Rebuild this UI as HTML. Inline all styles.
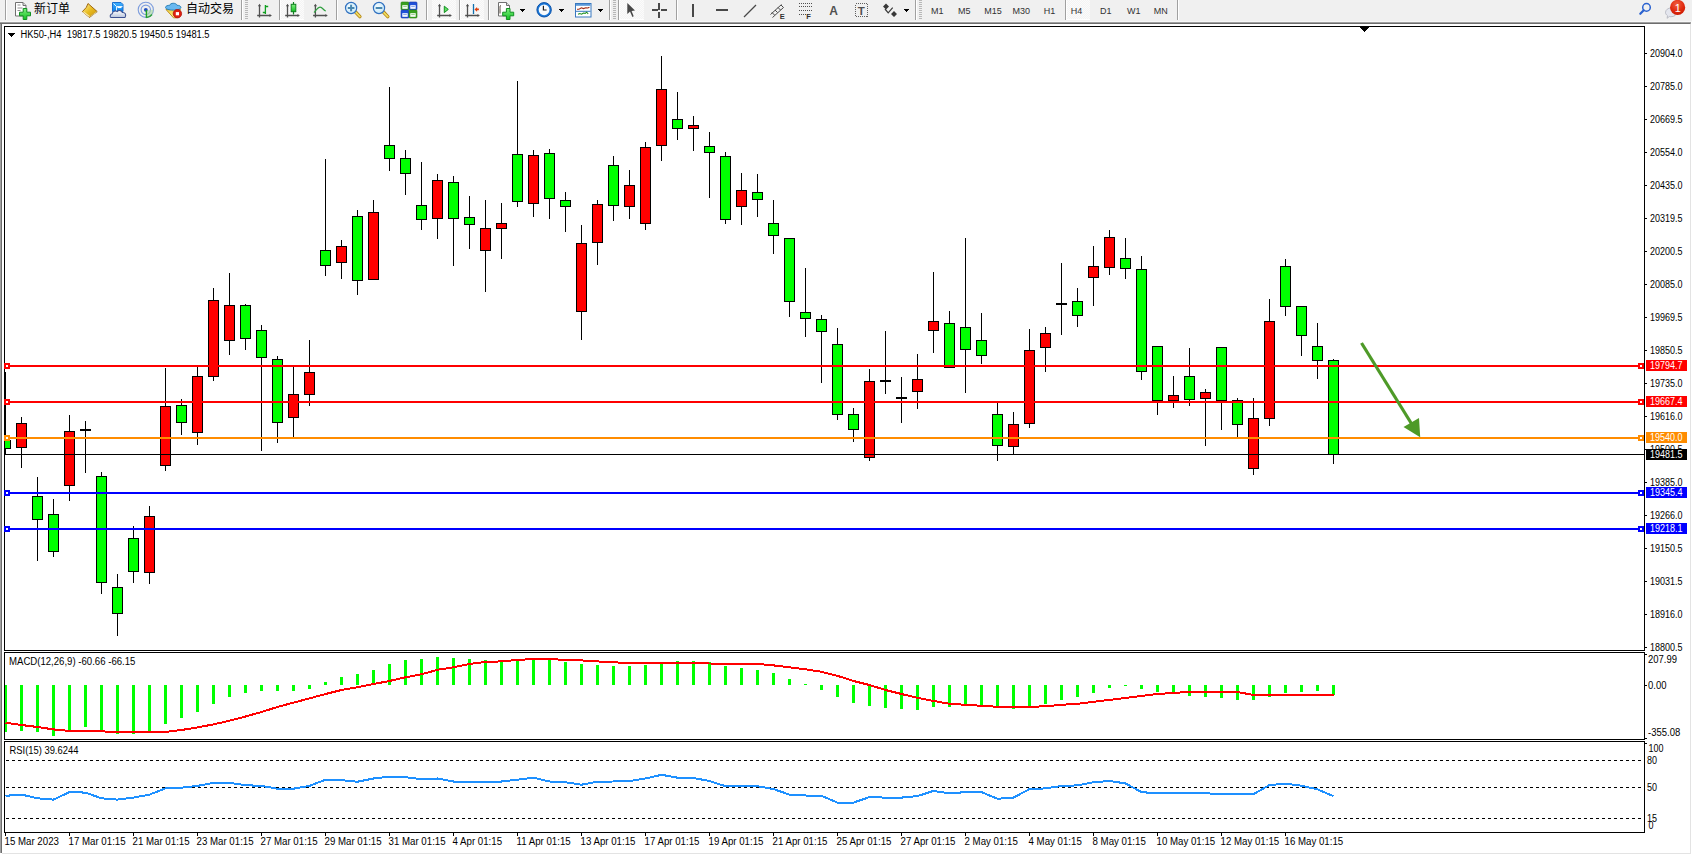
<!DOCTYPE html>
<html><head><meta charset="utf-8"><title>HK50 H4</title>
<style>html,body{margin:0;padding:0;background:#fff;overflow:hidden}svg{display:block}</style></head>
<body><svg width="1692" height="855" viewBox="0 0 1692 855" shape-rendering="crispEdges"><rect x="0" y="24" width="1692" height="830" fill="#ffffff"/><rect x="0" y="0" width="1692" height="21" fill="#f0f0f0"/><rect x="0" y="21" width="1692" height="1" fill="#f7f7f7"/><rect x="0" y="22" width="1691" height="1" fill="#a0a0a0"/><rect x="0" y="23" width="1690" height="1" fill="#6d6d6d"/><rect x="1690" y="23" width="1" height="1" fill="#a0a0a0"/><defs><pattern id="chk" width="2" height="2" patternUnits="userSpaceOnUse"><rect width="2" height="2" fill="#f4f4f4"/><rect width="1" height="1" fill="#fbfbfb"/><rect x="1" y="1" width="1" height="1" fill="#fbfbfb"/></pattern><linearGradient id="gGold" x1="0" y1="0" x2="1" y2="1"><stop offset="0" stop-color="#fff0a0"/><stop offset=".5" stop-color="#e8bc20"/><stop offset="1" stop-color="#c89010"/></linearGradient><linearGradient id="gGreen" x1="0" y1="0" x2="0" y2="1"><stop offset="0" stop-color="#80f080"/><stop offset="1" stop-color="#10c020"/></linearGradient><linearGradient id="gBlue" x1="0" y1="0" x2="0" y2="1"><stop offset="0" stop-color="#40b0ff"/><stop offset="1" stop-color="#0a80e8"/></linearGradient><linearGradient id="gCloud" x1="0" y1="0" x2="0" y2="1"><stop offset="0" stop-color="#ffffff"/><stop offset="1" stop-color="#b8c4dc"/></linearGradient><linearGradient id="gYel" x1="0" y1="0" x2="0" y2="1"><stop offset="0" stop-color="#f0d040"/><stop offset="1" stop-color="#fff090"/></linearGradient><radialGradient id="gBadge" cx=".45" cy=".3" r=".75"><stop offset="0" stop-color="#f06040"/><stop offset=".6" stop-color="#e02a10"/><stop offset="1" stop-color="#c81800"/></radialGradient><radialGradient id="gLens" cx=".4" cy=".4" r=".6"><stop offset="0" stop-color="#f4fcff"/><stop offset="1" stop-color="#c8e8f8"/></radialGradient></defs><rect x="5" y="0" width="1" height="20" fill="#a0a0a0"/><rect x="6" y="0" width="1" height="20" fill="#ffffff"/><g shape-rendering="geometricPrecision"><path d="M15.5 2.5h7.5l3 3v10.5h-10.5z" fill="#fff" stroke="#707070"/><path d="M23 2.5v3h3" fill="#e0e0e0" stroke="#707070"/><path d="M17.5 5h3M17.5 8h5M17.5 10.5h3" stroke="#909090"/><path d="M23.2 8.5h3.6v3.7h3.7v3.6h-3.7v3.7h-3.6v-3.7h-3.7v-3.6h3.7z" fill="url(#gGreen)" stroke="#109020" stroke-linejoin="round"/></g><text x="34" y="13" font-family="'Liberation Sans','Noto Sans CJK SC','WenQuanYi Zen Hei',sans-serif" font-size="12" fill="#000">新订单</text><g shape-rendering="geometricPrecision"><path d="M88 3.5L97.2 11.6 89.5 17.4 82.4 11.6 86.3 7.4z" fill="url(#gGold)" stroke="#a06810" stroke-linejoin="round"/><path d="M83.5 12l6 4.6" stroke="#f8e8a8" stroke-width="1.2"/><path d="M90.5 16.6l6.2-4.8" stroke="#d8c890" stroke-width="1"/></g><g shape-rendering="geometricPrecision"><path d="M112.5 2.5h8.5l2 2v7h-10.5z" fill="url(#gBlue)" stroke="#1a70d0"/><path d="M113.5 3.5l3 3v6M116.5 6.5h6" stroke="#e0f4ff" fill="none"/><path d="M117.5 7.5h4" stroke="#fff" stroke-width="1.2"/><path d="M111 17.5c-1.2-0.3-1.2-3.5 1.2-3.8 0.3-2.4 3.2-3.6 5-2.2 1.6-1.6 4.6-1 5.2 1 2.8-0.4 4 2.4 2.8 4.6-0.4 0.4-0.8 0.4-1.2 0.4z" fill="url(#gCloud)" stroke="#3c5090" stroke-width="1.1"/></g><g shape-rendering="geometricPrecision"><circle cx="145.8" cy="9.8" r="7.6" fill="none" stroke="#6088d8" stroke-width="1.1" opacity=".8"/><circle cx="145.8" cy="9.8" r="4.7" fill="none" stroke="#6088d8" stroke-width="1.1" opacity=".8"/><path d="M146.3 10.2 L146.3 17.6 A7.6 7.6 0 0 0 153.4 9.8z" fill="#a8d8a0" opacity=".6"/><path d="M152 14.5A7.6 7.6 0 0 1 146.3 17.6" fill="none" stroke="#30a040" stroke-width="1.4"/><circle cx="145.8" cy="9.8" r="1.9" fill="#2050c0"/><path d="M146.4 10v7.8" stroke="#20a020" stroke-width="1.4"/></g><g shape-rendering="geometricPrecision"><path d="M166 9.5l7.5 8.3h3l4-8.3z" fill="url(#gYel)" stroke="#c09020" stroke-linejoin="round"/><path d="M165.5 7.5c0-1.6 2.4-2.2 4.2-2.2 0.6-2.6 6.4-2.8 7.4 0 2.2 0 3.8 0.8 3.8 2.2 0 1.6-3.6 2.6-7.7 2.6s-7.7-1-7.7-2.6z" fill="#68b8f0" stroke="#2a80b8"/><circle cx="177.4" cy="13.7" r="4.2" fill="#e02010" stroke="#b01008" stroke-width=".8"/><rect x="175.8" y="12.1" width="3.2" height="3.2" fill="#fff"/></g><text x="186" y="13" font-family="'Liberation Sans','Noto Sans CJK SC','WenQuanYi Zen Hei',sans-serif" font-size="12" fill="#000">自动交易</text><rect x="241" y="0" width="1" height="20" fill="#a0a0a0"/><rect x="242" y="0" width="1" height="20" fill="#ffffff"/><rect x="245" y="0" width="3" height="1" fill="#b8b8b8"/><rect x="245" y="2" width="3" height="1" fill="#b8b8b8"/><rect x="245" y="4" width="3" height="1" fill="#b8b8b8"/><rect x="245" y="6" width="3" height="1" fill="#b8b8b8"/><rect x="245" y="8" width="3" height="1" fill="#b8b8b8"/><rect x="245" y="10" width="3" height="1" fill="#b8b8b8"/><rect x="245" y="12" width="3" height="1" fill="#b8b8b8"/><rect x="245" y="14" width="3" height="1" fill="#b8b8b8"/><rect x="245" y="16" width="3" height="1" fill="#b8b8b8"/><rect x="245" y="18" width="3" height="1" fill="#b8b8b8"/><g shape-rendering="geometricPrecision"><path d="M259.5 5v12.5M257.2 15.5h13" stroke="#505050" stroke-width="1.3"/><path d="M257.9 6.2l1.6-2.4 1.6 2.4zM269.5 13.9l2.4 1.6-2.4 1.6z" fill="#505050"/></g><g shape-rendering="geometricPrecision"><path d="M265.4 5v9M265.4 6.5h2.8M262.8 12.5h2.6" stroke="#10a020" stroke-width="1.3" fill="none"/></g><rect x="279" y="0" width="1" height="20" fill="#a0a0a0"/><rect x="280" y="0" width="1" height="20" fill="#ffffff"/><rect x="281" y="0" width="23" height="20" fill="url(#chk)"/><rect x="281" y="19" width="23" height="1" fill="#ffffff"/><g shape-rendering="geometricPrecision"><path d="M287.5 5v12.5M285.2 15.5h13" stroke="#505050" stroke-width="1.3"/><path d="M285.9 6.2l1.6-2.4 1.6 2.4zM297.5 13.9l2.4 1.6-2.4 1.6z" fill="#505050"/></g><g shape-rendering="geometricPrecision"><path d="M293.5 2v12.5" stroke="#108020" stroke-width="1.2"/><rect x="291.2" y="4.3" width="4.6" height="7.4" fill="url(#gGreen)" stroke="#108020"/></g><g shape-rendering="geometricPrecision"><path d="M315.4 5v12.5M313.09999999999997 15.5h13" stroke="#505050" stroke-width="1.3"/><path d="M313.79999999999995 6.2l1.6-2.4 1.6 2.4zM325.4 13.9l2.4 1.6-2.4 1.6z" fill="#505050"/></g><g shape-rendering="geometricPrecision"><path d="M314 12.5C316.5 9.5 318 7.2 320.2 7.2S323.5 10.5 325.8 11" fill="none" stroke="#30a040" stroke-width="1.2"/></g><rect x="336" y="0" width="1" height="20" fill="#a0a0a0"/><rect x="337" y="0" width="1" height="20" fill="#ffffff"/><g shape-rendering="geometricPrecision"><path d="M355.3 11.8l4.6 4.8" stroke="#b08010" stroke-width="3.4" stroke-linecap="round"/><path d="M355.3 11.8l4.6 4.8" stroke="#f0dc60" stroke-width="1.8" stroke-linecap="round"/><circle cx="351.1" cy="8" r="5.6" fill="url(#gLens)" stroke="#3070c0" stroke-width="1.2"/><path d="M347.8 8h6.6" stroke="#4a88b0" stroke-width="2"/><path d="M351.1 4.7v6.6" stroke="#4a88b0" stroke-width="2"/></g><g shape-rendering="geometricPrecision"><path d="M383.2 11.8l4.6 4.8" stroke="#b08010" stroke-width="3.4" stroke-linecap="round"/><path d="M383.2 11.8l4.6 4.8" stroke="#f0dc60" stroke-width="1.8" stroke-linecap="round"/><circle cx="379" cy="8" r="5.6" fill="url(#gLens)" stroke="#3070c0" stroke-width="1.2"/><path d="M375.7 8h6.6" stroke="#4a88b0" stroke-width="2"/></g><g shape-rendering="geometricPrecision"><rect x="401" y="2" width="8" height="8" rx="1" fill="#3aa020" stroke="#2a8010" stroke-width=".6"/><path d="M402.3 5.2h5.4v3.6h-5.4z" fill="#fff"/><path d="M403.2 6.6h3.6" stroke="#3aa020" stroke-width=".9" opacity=".6"/></g><g shape-rendering="geometricPrecision"><rect x="409" y="2" width="8" height="8" rx="1" fill="#2050d8" stroke="#1838a8" stroke-width=".6"/><path d="M410.3 5.2h5.4v3.6h-5.4z" fill="#fff"/><path d="M411.2 6.6h3.6" stroke="#2050d8" stroke-width=".9" opacity=".6"/></g><g shape-rendering="geometricPrecision"><rect x="401" y="10" width="8" height="8" rx="1" fill="#2050d8" stroke="#1838a8" stroke-width=".6"/><path d="M402.3 13.2h5.4v3.6h-5.4z" fill="#fff"/><path d="M403.2 14.6h3.6" stroke="#2050d8" stroke-width=".9" opacity=".6"/></g><g shape-rendering="geometricPrecision"><rect x="409" y="10" width="8" height="8" rx="1" fill="#3aa020" stroke="#2a8010" stroke-width=".6"/><path d="M410.3 13.2h5.4v3.6h-5.4z" fill="#fff"/><path d="M411.2 14.6h3.6" stroke="#3aa020" stroke-width=".9" opacity=".6"/></g><rect x="426" y="0" width="1" height="20" fill="#a0a0a0"/><rect x="427" y="0" width="1" height="20" fill="#ffffff"/><rect x="432" y="0" width="24" height="20" fill="url(#chk)"/><rect x="432" y="19" width="24" height="1" fill="#ffffff"/><g shape-rendering="geometricPrecision"><path d="M439.5 5v12.5M437.2 15.5h13" stroke="#505050" stroke-width="1.3"/><path d="M437.9 6.2l1.6-2.4 1.6 2.4zM449.5 13.9l2.4 1.6-2.4 1.6z" fill="#505050"/></g><g shape-rendering="geometricPrecision"><path d="M444.3 6.2l4 3.2-4 3.2z" fill="#60e060" stroke="#109020"/></g><rect x="459" y="0" width="1" height="20" fill="#a0a0a0"/><rect x="460" y="0" width="1" height="20" fill="#ffffff"/><rect x="461" y="0" width="23" height="20" fill="url(#chk)"/><rect x="461" y="19" width="23" height="1" fill="#ffffff"/><g shape-rendering="geometricPrecision"><path d="M467.5 5v12.5M465.2 15.5h13" stroke="#505050" stroke-width="1.3"/><path d="M465.9 6.2l1.6-2.4 1.6 2.4zM477.5 13.9l2.4 1.6-2.4 1.6z" fill="#505050"/></g><g shape-rendering="geometricPrecision"><path d="M473.5 4v10" stroke="#1070b0" stroke-width="1.3"/><path d="M474.5 9.4l2.6-2.4v1.6h1.8v1.6h-1.8v1.6z" fill="#e04010"/></g><rect x="488" y="0" width="1" height="20" fill="#a0a0a0"/><rect x="489" y="0" width="1" height="20" fill="#ffffff"/><g shape-rendering="geometricPrecision"><path d="M498.5 2.5h8l3 3v10.5h-11z" fill="#fff" stroke="#707070"/><path d="M506.5 2.5v3h3" fill="#e0e0e0" stroke="#707070"/><path d="M501 5.5c-1 0-1 1-1 3v5" stroke="#403020" fill="none" stroke-width=".9"/><path d="M506.4 8.5h3.6v3.7h3.7v3.6h-3.7v3.7h-3.6v-3.7h-3.7v-3.6h3.7z" fill="url(#gGreen)" stroke="#109020" stroke-linejoin="round"/></g><path d="M519.5 9h6l-3 3z" fill="#000"/><g shape-rendering="geometricPrecision"><circle cx="544.1" cy="9.8" r="7.2" fill="#1a78d8" stroke="#0a50a8" stroke-width="1"/><circle cx="544.1" cy="9.8" r="5.4" fill="#f8fafc"/><path d="M543.4 5.8v4.2h3.2" stroke="#202020" stroke-width="1.2" fill="none"/></g><path d="M558.5 9h6l-3 3z" fill="#000"/><g shape-rendering="geometricPrecision"><rect x="575.5" y="3.5" width="15.5" height="13.5" fill="#fff" stroke="#3878c0"/><rect x="576" y="4" width="14.5" height="1.8" fill="#5a98d8"/><path d="M576 11.3h14.5" stroke="#3878c0"/><path d="M577.2 9.4l2.2-.4 2-1.2 2 .8 2.4-.8 2 .2 1.6-.8" stroke="#a02810" fill="none" stroke-width="1.1"/><path d="M578 14.2l1.8-.6 1.8.6 1.8-1.2 1.8.4 1.4-1.2 1.6 1.6" stroke="#209020" fill="none" stroke-width="1.1"/></g><path d="M597.5 9h6l-3 3z" fill="#000"/><rect x="609" y="0" width="1" height="20" fill="#a0a0a0"/><rect x="610" y="0" width="1" height="20" fill="#ffffff"/><rect x="613" y="0" width="3" height="1" fill="#b8b8b8"/><rect x="613" y="2" width="3" height="1" fill="#b8b8b8"/><rect x="613" y="4" width="3" height="1" fill="#b8b8b8"/><rect x="613" y="6" width="3" height="1" fill="#b8b8b8"/><rect x="613" y="8" width="3" height="1" fill="#b8b8b8"/><rect x="613" y="10" width="3" height="1" fill="#b8b8b8"/><rect x="613" y="12" width="3" height="1" fill="#b8b8b8"/><rect x="613" y="14" width="3" height="1" fill="#b8b8b8"/><rect x="613" y="16" width="3" height="1" fill="#b8b8b8"/><rect x="613" y="18" width="3" height="1" fill="#b8b8b8"/><rect x="618" y="0" width="1" height="20" fill="#a0a0a0"/><rect x="619" y="0" width="1" height="20" fill="#ffffff"/><rect x="620" y="0" width="24" height="20" fill="url(#chk)"/><rect x="620" y="19" width="24" height="1" fill="#ffffff"/><g shape-rendering="geometricPrecision"><path d="M627.3 2.9V14.1L630 11.4 632.4 17 633.7 16.2 631.6 10.9 635 10.6Z" fill="#484848"/></g><path d="M659 3v6.5M659 11.5v6.5M652 10h6.2M660.8 10h6.2" stroke="#484848" stroke-width="1.3"/><rect x="676" y="0" width="1" height="20" fill="#a0a0a0"/><rect x="677" y="0" width="1" height="20" fill="#ffffff"/><path d="M693 4v13" stroke="#484848" stroke-width="1.3"/><path d="M716 10h12" stroke="#484848" stroke-width="1.3"/><g shape-rendering="geometricPrecision"><path d="M744 17L756 5" stroke="#484848" stroke-width="1.2"/></g><g shape-rendering="geometricPrecision"><path d="M770.5 14.5l11-10M772.5 17.5l11-10M772 12.5l2.5 2.5M775 10l2.5 2.5M778 7.5l2.5 2.5M781 5l2.5 2.5" stroke="#484848" fill="none" stroke-width="1"/></g><text x="779.8" y="19" font-family="'Liberation Sans','DejaVu Sans',sans-serif" font-size="7.5" font-weight="bold" fill="#303030">E</text><path d="M799 3.5h13M799 6.5h13M799 10.5h13M799 14.5h8" stroke="#505050" stroke-dasharray="1 1"/><text x="806.3" y="19" font-family="'Liberation Sans','DejaVu Sans',sans-serif" font-size="7.5" font-weight="bold" fill="#303030">F</text><text x="829.3" y="15" font-family="'Liberation Sans','DejaVu Sans',sans-serif" font-size="12" font-weight="bold" fill="#505050">A</text><rect x="855.5" y="3.5" width="12" height="13" fill="none" stroke="#606060" stroke-dasharray="1 1"/><text x="857.8" y="14.6" font-family="'Liberation Sans','DejaVu Sans',sans-serif" font-size="11.5" font-weight="bold" fill="#505050">T</text><g shape-rendering="geometricPrecision"><path d="M883 6.5l3-3 3 3-3 3zM891 14l3-3 3 3-3 3z" fill="#383838"/><path d="M885 9l3.2 3.8 4.5-5.2" stroke="#383838" fill="none" stroke-width="1.2"/></g><path d="M903.5 9h6l-3 3z" fill="#000"/><rect x="915" y="0" width="1" height="20" fill="#a0a0a0"/><rect x="916" y="0" width="1" height="20" fill="#ffffff"/><rect x="919" y="0" width="3" height="1" fill="#b8b8b8"/><rect x="919" y="2" width="3" height="1" fill="#b8b8b8"/><rect x="919" y="4" width="3" height="1" fill="#b8b8b8"/><rect x="919" y="6" width="3" height="1" fill="#b8b8b8"/><rect x="919" y="8" width="3" height="1" fill="#b8b8b8"/><rect x="919" y="10" width="3" height="1" fill="#b8b8b8"/><rect x="919" y="12" width="3" height="1" fill="#b8b8b8"/><rect x="919" y="14" width="3" height="1" fill="#b8b8b8"/><rect x="919" y="16" width="3" height="1" fill="#b8b8b8"/><rect x="919" y="18" width="3" height="1" fill="#b8b8b8"/><rect x="1066" y="0" width="24" height="20" fill="url(#chk)"/><rect x="1066" y="19" width="24" height="1" fill="#ffffff"/><rect x="1065" y="0" width="1" height="20" fill="#a0a0a0"/><rect x="1066" y="0" width="1" height="20" fill="#ffffff"/><text transform="scale(1.0,1)" x="931.00" y="14" font-family="'Liberation Sans','DejaVu Sans',sans-serif" font-size="9" fill="#333" xml:space="preserve">M1</text><text transform="scale(1.0,1)" x="958.00" y="14" font-family="'Liberation Sans','DejaVu Sans',sans-serif" font-size="9" fill="#333" xml:space="preserve">M5</text><text transform="scale(1.0,1)" x="984.30" y="14" font-family="'Liberation Sans','DejaVu Sans',sans-serif" font-size="9" fill="#333" xml:space="preserve">M15</text><text transform="scale(1.0,1)" x="1012.40" y="14" font-family="'Liberation Sans','DejaVu Sans',sans-serif" font-size="9" fill="#333" xml:space="preserve">M30</text><text transform="scale(1.0,1)" x="1043.70" y="14" font-family="'Liberation Sans','DejaVu Sans',sans-serif" font-size="9" fill="#333" xml:space="preserve">H1</text><text transform="scale(1.0,1)" x="1070.70" y="14" font-family="'Liberation Sans','DejaVu Sans',sans-serif" font-size="9" fill="#333" xml:space="preserve">H4</text><text transform="scale(1.0,1)" x="1099.90" y="14" font-family="'Liberation Sans','DejaVu Sans',sans-serif" font-size="9" fill="#333" xml:space="preserve">D1</text><text transform="scale(1.0,1)" x="1127.00" y="14" font-family="'Liberation Sans','DejaVu Sans',sans-serif" font-size="9" fill="#333" xml:space="preserve">W1</text><text transform="scale(1.0,1)" x="1153.70" y="14" font-family="'Liberation Sans','DejaVu Sans',sans-serif" font-size="9" fill="#333" xml:space="preserve">MN</text><rect x="1177" y="0" width="1" height="20" fill="#a0a0a0"/><rect x="1178" y="0" width="1" height="20" fill="#ffffff"/><g shape-rendering="geometricPrecision"><circle cx="1646.5" cy="7.4" r="3.8" fill="none" stroke="#2a62d0" stroke-width="1.5"/><path d="M1643.7 10.2l-3.4 3.6" stroke="#2a62d0" stroke-width="2.2" stroke-linecap="round"/></g><g shape-rendering="geometricPrecision"><path d="M1665.5 12.5c0-2.6 2.6-4.6 5.6-4.6s5.6 2 5.6 4.6-2.6 4.2-5.6 4.2c-.6 0-1.2 0-1.8-.2l-2.2 1.8.4-2.6c-1.2-.8-2-2-2-3.2z" fill="#e4e6ee" stroke="#b0b2bc" stroke-width=".8"/><circle cx="1677.6" cy="7.4" r="7.6" fill="url(#gBadge)"/><text x="1677.8" y="11.6" font-family="'Liberation Sans','DejaVu Sans',sans-serif" font-size="11" fill="#fff" text-anchor="middle">1</text></g><rect x="0" y="24" width="1" height="829" fill="#a0a0a0"/><rect x="1" y="24" width="1" height="829" fill="#6d6d6d"/><rect x="1690" y="24" width="1" height="830" fill="#e3e3e3"/><rect x="2" y="853" width="1689" height="1" fill="#e3e3e3"/><defs><clipPath id="cm"><rect x="5" y="27" width="1639" height="623"/></clipPath><clipPath id="cd"><rect x="5" y="653" width="1639" height="86"/></clipPath><clipPath id="cr"><rect x="5" y="742" width="1639" height="90"/></clipPath></defs><g clip-path="url(#cm)"><rect x="5" y="372" width="1" height="83" fill="#000"/><rect x="0" y="440" width="11" height="9" fill="#000"/><rect x="1" y="441" width="9" height="7" fill="#00ff00"/><rect x="21" y="417" width="1" height="51" fill="#000"/><rect x="16" y="423" width="11" height="25" fill="#000"/><rect x="17" y="424" width="9" height="23" fill="#ff0000"/><rect x="37" y="477" width="1" height="84" fill="#000"/><rect x="32" y="496" width="11" height="24" fill="#000"/><rect x="33" y="497" width="9" height="22" fill="#00ff00"/><rect x="53" y="499" width="1" height="58" fill="#000"/><rect x="48" y="514" width="11" height="38" fill="#000"/><rect x="49" y="515" width="9" height="36" fill="#00ff00"/><rect x="69" y="415" width="1" height="86" fill="#000"/><rect x="64" y="431" width="11" height="55" fill="#000"/><rect x="65" y="432" width="9" height="53" fill="#ff0000"/><rect x="85" y="421" width="1" height="52" fill="#000"/><rect x="80" y="429" width="11" height="2" fill="#000"/><rect x="101" y="472" width="1" height="122" fill="#000"/><rect x="96" y="476" width="11" height="107" fill="#000"/><rect x="97" y="477" width="9" height="105" fill="#00ff00"/><rect x="117" y="574" width="1" height="62" fill="#000"/><rect x="112" y="587" width="11" height="27" fill="#000"/><rect x="113" y="588" width="9" height="25" fill="#00ff00"/><rect x="133" y="526" width="1" height="57" fill="#000"/><rect x="128" y="538" width="11" height="34" fill="#000"/><rect x="129" y="539" width="9" height="32" fill="#00ff00"/><rect x="149" y="506" width="1" height="78" fill="#000"/><rect x="144" y="516" width="11" height="57" fill="#000"/><rect x="145" y="517" width="9" height="55" fill="#ff0000"/><rect x="165" y="368" width="1" height="103" fill="#000"/><rect x="160" y="406" width="11" height="60" fill="#000"/><rect x="161" y="407" width="9" height="58" fill="#ff0000"/><rect x="181" y="399" width="1" height="36" fill="#000"/><rect x="176" y="405" width="11" height="18" fill="#000"/><rect x="177" y="406" width="9" height="16" fill="#00ff00"/><rect x="197" y="367" width="1" height="78" fill="#000"/><rect x="192" y="376" width="11" height="57" fill="#000"/><rect x="193" y="377" width="9" height="55" fill="#ff0000"/><rect x="213" y="288" width="1" height="93" fill="#000"/><rect x="208" y="300" width="11" height="77" fill="#000"/><rect x="209" y="301" width="9" height="75" fill="#ff0000"/><rect x="229" y="273" width="1" height="82" fill="#000"/><rect x="224" y="305" width="11" height="36" fill="#000"/><rect x="225" y="306" width="9" height="34" fill="#ff0000"/><rect x="245" y="304" width="1" height="46" fill="#000"/><rect x="240" y="305" width="11" height="34" fill="#000"/><rect x="241" y="306" width="9" height="32" fill="#00ff00"/><rect x="261" y="325" width="1" height="126" fill="#000"/><rect x="256" y="330" width="11" height="28" fill="#000"/><rect x="257" y="331" width="9" height="26" fill="#00ff00"/><rect x="277" y="356" width="1" height="87" fill="#000"/><rect x="272" y="359" width="11" height="64" fill="#000"/><rect x="273" y="360" width="9" height="62" fill="#00ff00"/><rect x="293" y="367" width="1" height="70" fill="#000"/><rect x="288" y="394" width="11" height="24" fill="#000"/><rect x="289" y="395" width="9" height="22" fill="#ff0000"/><rect x="309" y="340" width="1" height="66" fill="#000"/><rect x="304" y="372" width="11" height="23" fill="#000"/><rect x="305" y="373" width="9" height="21" fill="#ff0000"/><rect x="325" y="159" width="1" height="117" fill="#000"/><rect x="320" y="250" width="11" height="16" fill="#000"/><rect x="321" y="251" width="9" height="14" fill="#00ff00"/><rect x="341" y="240" width="1" height="39" fill="#000"/><rect x="336" y="246" width="11" height="17" fill="#000"/><rect x="337" y="247" width="9" height="15" fill="#ff0000"/><rect x="357" y="210" width="1" height="85" fill="#000"/><rect x="352" y="216" width="11" height="65" fill="#000"/><rect x="353" y="217" width="9" height="63" fill="#00ff00"/><rect x="373" y="200" width="1" height="80" fill="#000"/><rect x="368" y="212" width="11" height="68" fill="#000"/><rect x="369" y="213" width="9" height="66" fill="#ff0000"/><rect x="389" y="87" width="1" height="84" fill="#000"/><rect x="384" y="145" width="11" height="14" fill="#000"/><rect x="385" y="146" width="9" height="12" fill="#00ff00"/><rect x="405" y="150" width="1" height="45" fill="#000"/><rect x="400" y="158" width="11" height="16" fill="#000"/><rect x="401" y="159" width="9" height="14" fill="#00ff00"/><rect x="421" y="162" width="1" height="68" fill="#000"/><rect x="416" y="205" width="11" height="15" fill="#000"/><rect x="417" y="206" width="9" height="13" fill="#00ff00"/><rect x="437" y="174" width="1" height="65" fill="#000"/><rect x="432" y="180" width="11" height="39" fill="#000"/><rect x="433" y="181" width="9" height="37" fill="#ff0000"/><rect x="453" y="176" width="1" height="90" fill="#000"/><rect x="448" y="182" width="11" height="37" fill="#000"/><rect x="449" y="183" width="9" height="35" fill="#00ff00"/><rect x="469" y="196" width="1" height="53" fill="#000"/><rect x="464" y="217" width="11" height="8" fill="#000"/><rect x="465" y="218" width="9" height="6" fill="#00ff00"/><rect x="485" y="200" width="1" height="92" fill="#000"/><rect x="480" y="228" width="11" height="23" fill="#000"/><rect x="481" y="229" width="9" height="21" fill="#ff0000"/><rect x="501" y="203" width="1" height="56" fill="#000"/><rect x="496" y="223" width="11" height="6" fill="#000"/><rect x="497" y="224" width="9" height="4" fill="#ff0000"/><rect x="517" y="81" width="1" height="126" fill="#000"/><rect x="512" y="154" width="11" height="48" fill="#000"/><rect x="513" y="155" width="9" height="46" fill="#00ff00"/><rect x="533" y="150" width="1" height="67" fill="#000"/><rect x="528" y="155" width="11" height="49" fill="#000"/><rect x="529" y="156" width="9" height="47" fill="#ff0000"/><rect x="549" y="149" width="1" height="70" fill="#000"/><rect x="544" y="153" width="11" height="46" fill="#000"/><rect x="545" y="154" width="9" height="44" fill="#00ff00"/><rect x="565" y="192" width="1" height="40" fill="#000"/><rect x="560" y="200" width="11" height="7" fill="#000"/><rect x="561" y="201" width="9" height="5" fill="#00ff00"/><rect x="581" y="225" width="1" height="115" fill="#000"/><rect x="576" y="243" width="11" height="69" fill="#000"/><rect x="577" y="244" width="9" height="67" fill="#ff0000"/><rect x="597" y="200" width="1" height="65" fill="#000"/><rect x="592" y="204" width="11" height="39" fill="#000"/><rect x="593" y="205" width="9" height="37" fill="#ff0000"/><rect x="613" y="156" width="1" height="65" fill="#000"/><rect x="608" y="165" width="11" height="41" fill="#000"/><rect x="609" y="166" width="9" height="39" fill="#00ff00"/><rect x="629" y="170" width="1" height="49" fill="#000"/><rect x="624" y="185" width="11" height="22" fill="#000"/><rect x="625" y="186" width="9" height="20" fill="#ff0000"/><rect x="645" y="142" width="1" height="88" fill="#000"/><rect x="640" y="147" width="11" height="77" fill="#000"/><rect x="641" y="148" width="9" height="75" fill="#ff0000"/><rect x="661" y="56" width="1" height="105" fill="#000"/><rect x="656" y="89" width="11" height="57" fill="#000"/><rect x="657" y="90" width="9" height="55" fill="#ff0000"/><rect x="677" y="92" width="1" height="48" fill="#000"/><rect x="672" y="119" width="11" height="10" fill="#000"/><rect x="673" y="120" width="9" height="8" fill="#00ff00"/><rect x="693" y="116" width="1" height="35" fill="#000"/><rect x="688" y="125" width="11" height="4" fill="#000"/><rect x="689" y="126" width="9" height="2" fill="#ff0000"/><rect x="709" y="132" width="1" height="66" fill="#000"/><rect x="704" y="146" width="11" height="7" fill="#000"/><rect x="705" y="147" width="9" height="5" fill="#00ff00"/><rect x="725" y="152" width="1" height="72" fill="#000"/><rect x="720" y="156" width="11" height="64" fill="#000"/><rect x="721" y="157" width="9" height="62" fill="#00ff00"/><rect x="741" y="173" width="1" height="52" fill="#000"/><rect x="736" y="190" width="11" height="17" fill="#000"/><rect x="737" y="191" width="9" height="15" fill="#ff0000"/><rect x="757" y="174" width="1" height="43" fill="#000"/><rect x="752" y="192" width="11" height="8" fill="#000"/><rect x="753" y="193" width="9" height="6" fill="#00ff00"/><rect x="773" y="200" width="1" height="54" fill="#000"/><rect x="768" y="223" width="11" height="13" fill="#000"/><rect x="769" y="224" width="9" height="11" fill="#00ff00"/><rect x="789" y="238" width="1" height="79" fill="#000"/><rect x="784" y="238" width="11" height="64" fill="#000"/><rect x="785" y="239" width="9" height="62" fill="#00ff00"/><rect x="805" y="268" width="1" height="69" fill="#000"/><rect x="800" y="312" width="11" height="7" fill="#000"/><rect x="801" y="313" width="9" height="5" fill="#00ff00"/><rect x="821" y="315" width="1" height="68" fill="#000"/><rect x="816" y="319" width="11" height="13" fill="#000"/><rect x="817" y="320" width="9" height="11" fill="#00ff00"/><rect x="837" y="328" width="1" height="92" fill="#000"/><rect x="832" y="344" width="11" height="71" fill="#000"/><rect x="833" y="345" width="9" height="69" fill="#00ff00"/><rect x="853" y="408" width="1" height="34" fill="#000"/><rect x="848" y="414" width="11" height="16" fill="#000"/><rect x="849" y="415" width="9" height="14" fill="#00ff00"/><rect x="869" y="369" width="1" height="92" fill="#000"/><rect x="864" y="381" width="11" height="77" fill="#000"/><rect x="865" y="382" width="9" height="75" fill="#ff0000"/><rect x="885" y="331" width="1" height="63" fill="#000"/><rect x="880" y="380" width="11" height="2" fill="#000"/><rect x="901" y="377" width="1" height="46" fill="#000"/><rect x="896" y="397" width="11" height="2" fill="#000"/><rect x="917" y="354" width="1" height="55" fill="#000"/><rect x="912" y="379" width="11" height="13" fill="#000"/><rect x="913" y="380" width="9" height="11" fill="#ff0000"/><rect x="933" y="272" width="1" height="81" fill="#000"/><rect x="928" y="321" width="11" height="10" fill="#000"/><rect x="929" y="322" width="9" height="8" fill="#ff0000"/><rect x="949" y="311" width="1" height="57" fill="#000"/><rect x="944" y="323" width="11" height="45" fill="#000"/><rect x="945" y="324" width="9" height="43" fill="#00ff00"/><rect x="965" y="238" width="1" height="155" fill="#000"/><rect x="960" y="327" width="11" height="23" fill="#000"/><rect x="961" y="328" width="9" height="21" fill="#00ff00"/><rect x="981" y="313" width="1" height="51" fill="#000"/><rect x="976" y="340" width="11" height="16" fill="#000"/><rect x="977" y="341" width="9" height="14" fill="#00ff00"/><rect x="997" y="403" width="1" height="58" fill="#000"/><rect x="992" y="414" width="11" height="32" fill="#000"/><rect x="993" y="415" width="9" height="30" fill="#00ff00"/><rect x="1013" y="412" width="1" height="43" fill="#000"/><rect x="1008" y="424" width="11" height="23" fill="#000"/><rect x="1009" y="425" width="9" height="21" fill="#ff0000"/><rect x="1029" y="329" width="1" height="99" fill="#000"/><rect x="1024" y="350" width="11" height="74" fill="#000"/><rect x="1025" y="351" width="9" height="72" fill="#ff0000"/><rect x="1045" y="327" width="1" height="45" fill="#000"/><rect x="1040" y="333" width="11" height="15" fill="#000"/><rect x="1041" y="334" width="9" height="13" fill="#ff0000"/><rect x="1061" y="263" width="1" height="72" fill="#000"/><rect x="1056" y="303" width="11" height="2" fill="#000"/><rect x="1077" y="288" width="1" height="39" fill="#000"/><rect x="1072" y="301" width="11" height="15" fill="#000"/><rect x="1073" y="302" width="9" height="13" fill="#00ff00"/><rect x="1093" y="246" width="1" height="60" fill="#000"/><rect x="1088" y="266" width="11" height="12" fill="#000"/><rect x="1089" y="267" width="9" height="10" fill="#ff0000"/><rect x="1109" y="230" width="1" height="45" fill="#000"/><rect x="1104" y="237" width="11" height="31" fill="#000"/><rect x="1105" y="238" width="9" height="29" fill="#ff0000"/><rect x="1125" y="238" width="1" height="41" fill="#000"/><rect x="1120" y="258" width="11" height="11" fill="#000"/><rect x="1121" y="259" width="9" height="9" fill="#00ff00"/><rect x="1141" y="256" width="1" height="124" fill="#000"/><rect x="1136" y="269" width="11" height="103" fill="#000"/><rect x="1137" y="270" width="9" height="101" fill="#00ff00"/><rect x="1157" y="346" width="1" height="69" fill="#000"/><rect x="1152" y="346" width="11" height="55" fill="#000"/><rect x="1153" y="347" width="9" height="53" fill="#00ff00"/><rect x="1173" y="376" width="1" height="32" fill="#000"/><rect x="1168" y="395" width="11" height="6" fill="#000"/><rect x="1169" y="396" width="9" height="4" fill="#ff0000"/><rect x="1189" y="348" width="1" height="58" fill="#000"/><rect x="1184" y="376" width="11" height="24" fill="#000"/><rect x="1185" y="377" width="9" height="22" fill="#00ff00"/><rect x="1205" y="389" width="1" height="57" fill="#000"/><rect x="1200" y="392" width="11" height="7" fill="#000"/><rect x="1201" y="393" width="9" height="5" fill="#ff0000"/><rect x="1221" y="347" width="1" height="83" fill="#000"/><rect x="1216" y="347" width="11" height="54" fill="#000"/><rect x="1217" y="348" width="9" height="52" fill="#00ff00"/><rect x="1237" y="398" width="1" height="39" fill="#000"/><rect x="1232" y="400" width="11" height="25" fill="#000"/><rect x="1233" y="401" width="9" height="23" fill="#00ff00"/><rect x="1253" y="398" width="1" height="77" fill="#000"/><rect x="1248" y="418" width="11" height="51" fill="#000"/><rect x="1249" y="419" width="9" height="49" fill="#ff0000"/><rect x="1269" y="299" width="1" height="127" fill="#000"/><rect x="1264" y="321" width="11" height="98" fill="#000"/><rect x="1265" y="322" width="9" height="96" fill="#ff0000"/><rect x="1285" y="259" width="1" height="57" fill="#000"/><rect x="1280" y="266" width="11" height="41" fill="#000"/><rect x="1281" y="267" width="9" height="39" fill="#00ff00"/><rect x="1301" y="306" width="1" height="50" fill="#000"/><rect x="1296" y="306" width="11" height="30" fill="#000"/><rect x="1297" y="307" width="9" height="28" fill="#00ff00"/><rect x="1317" y="323" width="1" height="56" fill="#000"/><rect x="1312" y="346" width="11" height="15" fill="#000"/><rect x="1313" y="347" width="9" height="13" fill="#00ff00"/><rect x="1333" y="359" width="1" height="105" fill="#000"/><rect x="1328" y="360" width="11" height="95" fill="#000"/><rect x="1329" y="361" width="9" height="93" fill="#00ff00"/><rect x="5" y="454" width="1639" height="1" fill="#000"/><rect x="5" y="365" width="1639" height="2" fill="#ff0000"/><rect x="1638" y="363" width="6" height="6" fill="#ff0000"/><rect x="1640" y="365" width="2" height="2" fill="#fff"/><rect x="5" y="401" width="1639" height="2" fill="#ff0000"/><rect x="1638" y="399" width="6" height="6" fill="#ff0000"/><rect x="1640" y="401" width="2" height="2" fill="#fff"/><rect x="5" y="437" width="1639" height="2" fill="#ff8c00"/><rect x="1638" y="435" width="6" height="6" fill="#ff8c00"/><rect x="1640" y="437" width="2" height="2" fill="#fff"/><rect x="5" y="492" width="1639" height="2" fill="#0000ff"/><rect x="1638" y="490" width="6" height="6" fill="#0000ff"/><rect x="1640" y="492" width="2" height="2" fill="#fff"/><rect x="5" y="528" width="1639" height="2" fill="#0000ff"/><rect x="1638" y="526" width="6" height="6" fill="#0000ff"/><rect x="1640" y="528" width="2" height="2" fill="#fff"/><g shape-rendering="geometricPrecision"><line x1="1361.5" y1="343" x2="1412" y2="424.5" stroke="#4e9a28" stroke-width="3.2"/><path d="M1420.2 437.2 L1403.5 427 L1419 418 Z" fill="#4e9a28"/></g><path d="M1359.5 27h10l-5 5.5z" fill="#000"/></g><rect x="4" y="26" width="1641" height="1" fill="#000"/><rect x="4" y="650" width="1641" height="1" fill="#000"/><rect x="4" y="26" width="1" height="625" fill="#000"/><rect x="1644" y="26" width="1" height="625" fill="#000"/><rect x="4" y="363" width="6" height="6" fill="#ff0000"/><rect x="6" y="365" width="2" height="2" fill="#fff"/><rect x="4" y="399" width="6" height="6" fill="#ff0000"/><rect x="6" y="401" width="2" height="2" fill="#fff"/><rect x="4" y="435" width="6" height="6" fill="#ff8c00"/><rect x="6" y="437" width="2" height="2" fill="#fff"/><rect x="4" y="490" width="6" height="6" fill="#0000ff"/><rect x="6" y="492" width="2" height="2" fill="#fff"/><rect x="4" y="526" width="6" height="6" fill="#0000ff"/><rect x="6" y="528" width="2" height="2" fill="#fff"/><path d="M8 33h7l-3.5 4z" fill="#000"/><text transform="scale(0.935,1)" x="21.93" y="38" font-family="'Liberation Sans','DejaVu Sans',sans-serif" font-size="10" fill="#000" xml:space="preserve">HK50-,H4  19817.5 19820.5 19450.5 19481.5</text><rect x="1645" y="53" width="2" height="1" fill="#000"/><text transform="scale(0.9,1)" x="1833.33" y="57" font-family="'Liberation Sans','DejaVu Sans',sans-serif" font-size="10" fill="#000" xml:space="preserve">20904.0</text><rect x="1645" y="86" width="2" height="1" fill="#000"/><text transform="scale(0.9,1)" x="1833.33" y="90" font-family="'Liberation Sans','DejaVu Sans',sans-serif" font-size="10" fill="#000" xml:space="preserve">20785.0</text><rect x="1645" y="119" width="2" height="1" fill="#000"/><text transform="scale(0.9,1)" x="1833.33" y="123" font-family="'Liberation Sans','DejaVu Sans',sans-serif" font-size="10" fill="#000" xml:space="preserve">20669.5</text><rect x="1645" y="152" width="2" height="1" fill="#000"/><text transform="scale(0.9,1)" x="1833.33" y="156" font-family="'Liberation Sans','DejaVu Sans',sans-serif" font-size="10" fill="#000" xml:space="preserve">20554.0</text><rect x="1645" y="185" width="2" height="1" fill="#000"/><text transform="scale(0.9,1)" x="1833.33" y="189" font-family="'Liberation Sans','DejaVu Sans',sans-serif" font-size="10" fill="#000" xml:space="preserve">20435.0</text><rect x="1645" y="218" width="2" height="1" fill="#000"/><text transform="scale(0.9,1)" x="1833.33" y="222" font-family="'Liberation Sans','DejaVu Sans',sans-serif" font-size="10" fill="#000" xml:space="preserve">20319.5</text><rect x="1645" y="251" width="2" height="1" fill="#000"/><text transform="scale(0.9,1)" x="1833.33" y="255" font-family="'Liberation Sans','DejaVu Sans',sans-serif" font-size="10" fill="#000" xml:space="preserve">20200.5</text><rect x="1645" y="284" width="2" height="1" fill="#000"/><text transform="scale(0.9,1)" x="1833.33" y="288" font-family="'Liberation Sans','DejaVu Sans',sans-serif" font-size="10" fill="#000" xml:space="preserve">20085.0</text><rect x="1645" y="317" width="2" height="1" fill="#000"/><text transform="scale(0.9,1)" x="1833.33" y="321" font-family="'Liberation Sans','DejaVu Sans',sans-serif" font-size="10" fill="#000" xml:space="preserve">19969.5</text><rect x="1645" y="350" width="2" height="1" fill="#000"/><text transform="scale(0.9,1)" x="1833.33" y="354" font-family="'Liberation Sans','DejaVu Sans',sans-serif" font-size="10" fill="#000" xml:space="preserve">19850.5</text><rect x="1645" y="383" width="2" height="1" fill="#000"/><text transform="scale(0.9,1)" x="1833.33" y="387" font-family="'Liberation Sans','DejaVu Sans',sans-serif" font-size="10" fill="#000" xml:space="preserve">19735.0</text><rect x="1645" y="416" width="2" height="1" fill="#000"/><text transform="scale(0.9,1)" x="1833.33" y="420" font-family="'Liberation Sans','DejaVu Sans',sans-serif" font-size="10" fill="#000" xml:space="preserve">19616.0</text><rect x="1645" y="449" width="2" height="1" fill="#000"/><text transform="scale(0.9,1)" x="1833.33" y="453" font-family="'Liberation Sans','DejaVu Sans',sans-serif" font-size="10" fill="#000" xml:space="preserve">19500.5</text><rect x="1645" y="482" width="2" height="1" fill="#000"/><text transform="scale(0.9,1)" x="1833.33" y="486" font-family="'Liberation Sans','DejaVu Sans',sans-serif" font-size="10" fill="#000" xml:space="preserve">19385.0</text><rect x="1645" y="515" width="2" height="1" fill="#000"/><text transform="scale(0.9,1)" x="1833.33" y="519" font-family="'Liberation Sans','DejaVu Sans',sans-serif" font-size="10" fill="#000" xml:space="preserve">19266.0</text><rect x="1645" y="548" width="2" height="1" fill="#000"/><text transform="scale(0.9,1)" x="1833.33" y="552" font-family="'Liberation Sans','DejaVu Sans',sans-serif" font-size="10" fill="#000" xml:space="preserve">19150.5</text><rect x="1645" y="581" width="2" height="1" fill="#000"/><text transform="scale(0.9,1)" x="1833.33" y="585" font-family="'Liberation Sans','DejaVu Sans',sans-serif" font-size="10" fill="#000" xml:space="preserve">19031.5</text><rect x="1645" y="614" width="2" height="1" fill="#000"/><text transform="scale(0.9,1)" x="1833.33" y="618" font-family="'Liberation Sans','DejaVu Sans',sans-serif" font-size="10" fill="#000" xml:space="preserve">18916.0</text><rect x="1645" y="647" width="2" height="1" fill="#000"/><text transform="scale(0.9,1)" x="1833.33" y="651" font-family="'Liberation Sans','DejaVu Sans',sans-serif" font-size="10" fill="#000" xml:space="preserve">18800.5</text><rect x="1646" y="360" width="41" height="11" fill="#ff0000"/><text transform="scale(0.9,1)" x="1833.33" y="369" font-family="'Liberation Sans','DejaVu Sans',sans-serif" font-size="10" fill="#fff" xml:space="preserve">19794.7</text><rect x="1646" y="396" width="41" height="11" fill="#ff0000"/><text transform="scale(0.9,1)" x="1833.33" y="405" font-family="'Liberation Sans','DejaVu Sans',sans-serif" font-size="10" fill="#fff" xml:space="preserve">19667.4</text><rect x="1646" y="432" width="41" height="11" fill="#ff8c00"/><text transform="scale(0.9,1)" x="1833.33" y="441" font-family="'Liberation Sans','DejaVu Sans',sans-serif" font-size="10" fill="#fff" xml:space="preserve">19540.0</text><rect x="1646" y="449" width="41" height="11" fill="#000000"/><text transform="scale(0.9,1)" x="1833.33" y="458" font-family="'Liberation Sans','DejaVu Sans',sans-serif" font-size="10" fill="#fff" xml:space="preserve">19481.5</text><rect x="1646" y="487" width="41" height="11" fill="#0000ff"/><text transform="scale(0.9,1)" x="1833.33" y="496" font-family="'Liberation Sans','DejaVu Sans',sans-serif" font-size="10" fill="#fff" xml:space="preserve">19345.4</text><rect x="1646" y="523" width="41" height="11" fill="#0000ff"/><text transform="scale(0.9,1)" x="1833.33" y="532" font-family="'Liberation Sans','DejaVu Sans',sans-serif" font-size="10" fill="#fff" xml:space="preserve">19218.1</text><rect x="4" y="652" width="1641" height="1" fill="#000"/><rect x="4" y="739" width="1641" height="1" fill="#000"/><rect x="4" y="652" width="1" height="88" fill="#000"/><rect x="1644" y="652" width="1" height="88" fill="#000"/><g clip-path="url(#cd)"><rect x="4" y="685" width="3" height="47" fill="#00ff00"/><rect x="20" y="685" width="3" height="46" fill="#00ff00"/><rect x="36" y="685" width="3" height="47" fill="#00ff00"/><rect x="52" y="685" width="3" height="51" fill="#00ff00"/><rect x="68" y="685" width="3" height="47" fill="#00ff00"/><rect x="84" y="685" width="3" height="42" fill="#00ff00"/><rect x="100" y="685" width="3" height="47" fill="#00ff00"/><rect x="116" y="685" width="3" height="49" fill="#00ff00"/><rect x="132" y="685" width="3" height="49" fill="#00ff00"/><rect x="148" y="685" width="3" height="46" fill="#00ff00"/><rect x="164" y="685" width="3" height="39" fill="#00ff00"/><rect x="180" y="685" width="3" height="33" fill="#00ff00"/><rect x="196" y="685" width="3" height="27" fill="#00ff00"/><rect x="212" y="685" width="3" height="19" fill="#00ff00"/><rect x="228" y="685" width="3" height="12" fill="#00ff00"/><rect x="244" y="685" width="3" height="8" fill="#00ff00"/><rect x="260" y="685" width="3" height="6" fill="#00ff00"/><rect x="276" y="685" width="3" height="6" fill="#00ff00"/><rect x="292" y="685" width="3" height="6" fill="#00ff00"/><rect x="308" y="685" width="3" height="4" fill="#00ff00"/><rect x="324" y="682" width="3" height="3" fill="#00ff00"/><rect x="340" y="677" width="3" height="8" fill="#00ff00"/><rect x="356" y="674" width="3" height="11" fill="#00ff00"/><rect x="372" y="670" width="3" height="15" fill="#00ff00"/><rect x="388" y="664" width="3" height="21" fill="#00ff00"/><rect x="404" y="660" width="3" height="25" fill="#00ff00"/><rect x="420" y="659" width="3" height="26" fill="#00ff00"/><rect x="436" y="657" width="3" height="28" fill="#00ff00"/><rect x="452" y="658" width="3" height="27" fill="#00ff00"/><rect x="468" y="659" width="3" height="26" fill="#00ff00"/><rect x="484" y="660" width="3" height="25" fill="#00ff00"/><rect x="500" y="662" width="3" height="23" fill="#00ff00"/><rect x="516" y="661" width="3" height="24" fill="#00ff00"/><rect x="532" y="660" width="3" height="25" fill="#00ff00"/><rect x="548" y="660" width="3" height="25" fill="#00ff00"/><rect x="564" y="662" width="3" height="23" fill="#00ff00"/><rect x="580" y="664" width="3" height="21" fill="#00ff00"/><rect x="596" y="665" width="3" height="20" fill="#00ff00"/><rect x="612" y="666" width="3" height="19" fill="#00ff00"/><rect x="628" y="666" width="3" height="19" fill="#00ff00"/><rect x="644" y="665" width="3" height="20" fill="#00ff00"/><rect x="660" y="663" width="3" height="22" fill="#00ff00"/><rect x="676" y="661" width="3" height="24" fill="#00ff00"/><rect x="692" y="661" width="3" height="24" fill="#00ff00"/><rect x="708" y="662" width="3" height="23" fill="#00ff00"/><rect x="724" y="666" width="3" height="19" fill="#00ff00"/><rect x="740" y="668" width="3" height="17" fill="#00ff00"/><rect x="756" y="670" width="3" height="15" fill="#00ff00"/><rect x="772" y="673" width="3" height="12" fill="#00ff00"/><rect x="788" y="679" width="3" height="6" fill="#00ff00"/><rect x="804" y="684" width="3" height="1" fill="#00ff00"/><rect x="820" y="685" width="3" height="5" fill="#00ff00"/><rect x="836" y="685" width="3" height="12" fill="#00ff00"/><rect x="852" y="685" width="3" height="18" fill="#00ff00"/><rect x="868" y="685" width="3" height="21" fill="#00ff00"/><rect x="884" y="685" width="3" height="23" fill="#00ff00"/><rect x="900" y="685" width="3" height="24" fill="#00ff00"/><rect x="916" y="685" width="3" height="25" fill="#00ff00"/><rect x="932" y="685" width="3" height="22" fill="#00ff00"/><rect x="948" y="685" width="3" height="22" fill="#00ff00"/><rect x="964" y="685" width="3" height="20" fill="#00ff00"/><rect x="980" y="685" width="3" height="20" fill="#00ff00"/><rect x="996" y="685" width="3" height="23" fill="#00ff00"/><rect x="1012" y="685" width="3" height="24" fill="#00ff00"/><rect x="1028" y="685" width="3" height="21" fill="#00ff00"/><rect x="1044" y="685" width="3" height="19" fill="#00ff00"/><rect x="1060" y="685" width="3" height="15" fill="#00ff00"/><rect x="1076" y="685" width="3" height="12" fill="#00ff00"/><rect x="1092" y="685" width="3" height="8" fill="#00ff00"/><rect x="1108" y="685" width="3" height="3" fill="#00ff00"/><rect x="1124" y="685" width="3" height="1" fill="#00ff00"/><rect x="1140" y="685" width="3" height="4" fill="#00ff00"/><rect x="1156" y="685" width="3" height="7" fill="#00ff00"/><rect x="1172" y="685" width="3" height="8" fill="#00ff00"/><rect x="1188" y="685" width="3" height="11" fill="#00ff00"/><rect x="1204" y="685" width="3" height="12" fill="#00ff00"/><rect x="1220" y="685" width="3" height="13" fill="#00ff00"/><rect x="1236" y="685" width="3" height="15" fill="#00ff00"/><rect x="1252" y="685" width="3" height="15" fill="#00ff00"/><rect x="1268" y="685" width="3" height="12" fill="#00ff00"/><rect x="1284" y="685" width="3" height="8" fill="#00ff00"/><rect x="1300" y="685" width="3" height="7" fill="#00ff00"/><rect x="1316" y="685" width="3" height="6" fill="#00ff00"/><rect x="1332" y="685" width="3" height="10" fill="#00ff00"/><polyline points="5.5,722.7 21.5,725 37.5,727 53.5,729.4 69.5,731 85.5,731.3 101.5,731.4 117.5,731.9 133.5,731.9 149.5,731.9 165.5,731.9 181.5,730 197.5,727.4 213.5,724.4 229.5,720.7 245.5,716.5 261.5,712 277.5,707 293.5,702.6 309.5,698.4 325.5,694 341.5,690 357.5,687.2 373.5,684 389.5,681 405.5,677.3 421.5,674.3 437.5,669.8 453.5,667.3 469.5,663.9 485.5,661.9 501.5,661.4 517.5,659.9 533.5,659.1 549.5,659.1 565.5,659.9 581.5,660.4 597.5,661.4 613.5,662.4 629.5,662.8 645.5,663.1 661.5,663.1 677.5,663.1 693.5,663.3 709.5,663.5 725.5,663.7 741.5,663.9 757.5,663.9 773.5,665.4 789.5,667.3 805.5,669.3 821.5,671.8 837.5,675.8 853.5,681 869.5,685 885.5,690 901.5,694 917.5,697.9 933.5,700.9 949.5,703.8 965.5,704.8 981.5,705.8 997.5,706.8 1013.5,706.8 1029.5,706.8 1045.5,706.3 1061.5,704.8 1077.5,703.8 1093.5,701.8 1109.5,699.9 1125.5,697.9 1141.5,695.9 1157.5,694 1173.5,692.9 1189.5,692 1205.5,692 1221.5,692 1237.5,692 1253.5,695 1269.5,695 1285.5,695 1301.5,695 1317.5,695 1333.5,695" fill="none" stroke="#ff0000" stroke-width="2"/></g><text transform="scale(0.96,1)" x="9.38" y="665" font-family="'Liberation Sans','DejaVu Sans',sans-serif" font-size="10" fill="#000" xml:space="preserve">MACD(12,26,9) -60.66 -66.15</text><rect x="1645" y="654" width="2" height="1" fill="#000"/><rect x="1645" y="738" width="2" height="1" fill="#000"/><rect x="1645" y="685" width="2" height="1" fill="#000"/><text transform="scale(0.95,1)" x="1734.74" y="663" font-family="'Liberation Sans','DejaVu Sans',sans-serif" font-size="10" fill="#000" xml:space="preserve">207.99</text><text transform="scale(0.95,1)" x="1734.74" y="689" font-family="'Liberation Sans','DejaVu Sans',sans-serif" font-size="10" fill="#000" xml:space="preserve">0.00</text><text transform="scale(0.95,1)" x="1734.74" y="736" font-family="'Liberation Sans','DejaVu Sans',sans-serif" font-size="10" fill="#000" xml:space="preserve">-355.08</text><rect x="4" y="741" width="1641" height="1" fill="#000"/><rect x="4" y="832" width="1641" height="1" fill="#000"/><rect x="4" y="741" width="1" height="92" fill="#000"/><rect x="1644" y="741" width="1" height="92" fill="#000"/><line x1="6" y1="760.5" x2="1644" y2="760.5" stroke="#000" stroke-dasharray="3 3"/><line x1="6" y1="787.5" x2="1644" y2="787.5" stroke="#000" stroke-dasharray="3 3"/><line x1="6" y1="818.5" x2="1644" y2="818.5" stroke="#000" stroke-dasharray="3 3"/><g clip-path="url(#cr)"><polyline points="5.5,795.8 21.5,794.6 37.5,798.3 53.5,799.6 69.5,792.1 85.5,792.6 101.5,798.3 117.5,799.6 133.5,797.6 149.5,794.6 165.5,788.4 181.5,787.7 197.5,785.9 213.5,782.9 229.5,782.9 245.5,785.2 261.5,785.9 277.5,788.7 293.5,788.7 309.5,785.9 325.5,779.7 341.5,780.2 357.5,781.7 373.5,778.5 389.5,776.7 405.5,777.2 421.5,779.2 437.5,778.5 453.5,781.5 469.5,781.5 485.5,781.5 501.5,781.5 517.5,779.7 533.5,777.7 549.5,781.5 565.5,782.2 581.5,784.7 597.5,781.7 613.5,781.5 629.5,781 645.5,778.5 661.5,774.8 677.5,777.7 693.5,778 709.5,781 725.5,786.2 741.5,785.9 757.5,786.2 773.5,789.1 789.5,794.6 805.5,795.5 821.5,795.8 837.5,802.6 853.5,802.6 869.5,797.1 885.5,797.6 901.5,797.6 917.5,796.1 933.5,790.9 949.5,793.4 965.5,792.1 981.5,792.1 997.5,798.8 1013.5,797.6 1029.5,789.1 1045.5,788.4 1061.5,785.9 1077.5,785.4 1093.5,782.2 1109.5,781 1125.5,783.4 1141.5,792.1 1157.5,793.4 1173.5,793.4 1189.5,793.4 1205.5,793.3 1221.5,794.1 1237.5,794.1 1253.5,794.1 1269.5,785.1 1285.5,783.6 1301.5,785.7 1317.5,789.4 1333.5,796.1" fill="none" stroke="#1e90ff" stroke-width="2"/></g><text transform="scale(0.94,1)" x="10.11" y="754" font-family="'Liberation Sans','DejaVu Sans',sans-serif" font-size="10" fill="#000" xml:space="preserve">RSI(15) 39.6244</text><rect x="1645" y="743" width="2" height="1" fill="#000"/><text transform="scale(0.9,1)" x="1831.67" y="752" font-family="'Liberation Sans','DejaVu Sans',sans-serif" font-size="10" fill="#000" xml:space="preserve">100</text><text transform="scale(0.9,1)" x="1830.00" y="764" font-family="'Liberation Sans','DejaVu Sans',sans-serif" font-size="10" fill="#000" xml:space="preserve">80</text><text transform="scale(0.9,1)" x="1830.00" y="791" font-family="'Liberation Sans','DejaVu Sans',sans-serif" font-size="10" fill="#000" xml:space="preserve">50</text><text transform="scale(0.9,1)" x="1830.00" y="822" font-family="'Liberation Sans','DejaVu Sans',sans-serif" font-size="10" fill="#000" xml:space="preserve">15</text><text transform="scale(0.9,1)" x="1831.67" y="829" font-family="'Liberation Sans','DejaVu Sans',sans-serif" font-size="10" fill="#000" xml:space="preserve">0</text><rect x="5" y="833" width="1" height="3" fill="#000"/><text transform="scale(0.97,1)" x="4.64" y="845" font-family="'Liberation Sans','DejaVu Sans',sans-serif" font-size="10" fill="#000" xml:space="preserve">15 Mar 2023</text><rect x="69" y="833" width="1" height="3" fill="#000"/><text transform="scale(0.97,1)" x="70.62" y="845" font-family="'Liberation Sans','DejaVu Sans',sans-serif" font-size="10" fill="#000" xml:space="preserve">17 Mar 01:15</text><rect x="133" y="833" width="1" height="3" fill="#000"/><text transform="scale(0.97,1)" x="136.60" y="845" font-family="'Liberation Sans','DejaVu Sans',sans-serif" font-size="10" fill="#000" xml:space="preserve">21 Mar 01:15</text><rect x="197" y="833" width="1" height="3" fill="#000"/><text transform="scale(0.97,1)" x="202.58" y="845" font-family="'Liberation Sans','DejaVu Sans',sans-serif" font-size="10" fill="#000" xml:space="preserve">23 Mar 01:15</text><rect x="261" y="833" width="1" height="3" fill="#000"/><text transform="scale(0.97,1)" x="268.56" y="845" font-family="'Liberation Sans','DejaVu Sans',sans-serif" font-size="10" fill="#000" xml:space="preserve">27 Mar 01:15</text><rect x="325" y="833" width="1" height="3" fill="#000"/><text transform="scale(0.97,1)" x="334.54" y="845" font-family="'Liberation Sans','DejaVu Sans',sans-serif" font-size="10" fill="#000" xml:space="preserve">29 Mar 01:15</text><rect x="389" y="833" width="1" height="3" fill="#000"/><text transform="scale(0.97,1)" x="400.52" y="845" font-family="'Liberation Sans','DejaVu Sans',sans-serif" font-size="10" fill="#000" xml:space="preserve">31 Mar 01:15</text><rect x="453" y="833" width="1" height="3" fill="#000"/><text transform="scale(0.97,1)" x="466.49" y="845" font-family="'Liberation Sans','DejaVu Sans',sans-serif" font-size="10" fill="#000" xml:space="preserve">4 Apr 01:15</text><rect x="517" y="833" width="1" height="3" fill="#000"/><text transform="scale(0.97,1)" x="532.47" y="845" font-family="'Liberation Sans','DejaVu Sans',sans-serif" font-size="10" fill="#000" xml:space="preserve">11 Apr 01:15</text><rect x="581" y="833" width="1" height="3" fill="#000"/><text transform="scale(0.97,1)" x="598.45" y="845" font-family="'Liberation Sans','DejaVu Sans',sans-serif" font-size="10" fill="#000" xml:space="preserve">13 Apr 01:15</text><rect x="645" y="833" width="1" height="3" fill="#000"/><text transform="scale(0.97,1)" x="664.43" y="845" font-family="'Liberation Sans','DejaVu Sans',sans-serif" font-size="10" fill="#000" xml:space="preserve">17 Apr 01:15</text><rect x="709" y="833" width="1" height="3" fill="#000"/><text transform="scale(0.97,1)" x="730.41" y="845" font-family="'Liberation Sans','DejaVu Sans',sans-serif" font-size="10" fill="#000" xml:space="preserve">19 Apr 01:15</text><rect x="773" y="833" width="1" height="3" fill="#000"/><text transform="scale(0.97,1)" x="796.39" y="845" font-family="'Liberation Sans','DejaVu Sans',sans-serif" font-size="10" fill="#000" xml:space="preserve">21 Apr 01:15</text><rect x="837" y="833" width="1" height="3" fill="#000"/><text transform="scale(0.97,1)" x="862.37" y="845" font-family="'Liberation Sans','DejaVu Sans',sans-serif" font-size="10" fill="#000" xml:space="preserve">25 Apr 01:15</text><rect x="901" y="833" width="1" height="3" fill="#000"/><text transform="scale(0.97,1)" x="928.35" y="845" font-family="'Liberation Sans','DejaVu Sans',sans-serif" font-size="10" fill="#000" xml:space="preserve">27 Apr 01:15</text><rect x="965" y="833" width="1" height="3" fill="#000"/><text transform="scale(0.97,1)" x="994.33" y="845" font-family="'Liberation Sans','DejaVu Sans',sans-serif" font-size="10" fill="#000" xml:space="preserve">2 May 01:15</text><rect x="1029" y="833" width="1" height="3" fill="#000"/><text transform="scale(0.97,1)" x="1060.31" y="845" font-family="'Liberation Sans','DejaVu Sans',sans-serif" font-size="10" fill="#000" xml:space="preserve">4 May 01:15</text><rect x="1093" y="833" width="1" height="3" fill="#000"/><text transform="scale(0.97,1)" x="1126.29" y="845" font-family="'Liberation Sans','DejaVu Sans',sans-serif" font-size="10" fill="#000" xml:space="preserve">8 May 01:15</text><rect x="1157" y="833" width="1" height="3" fill="#000"/><text transform="scale(0.97,1)" x="1192.27" y="845" font-family="'Liberation Sans','DejaVu Sans',sans-serif" font-size="10" fill="#000" xml:space="preserve">10 May 01:15</text><rect x="1221" y="833" width="1" height="3" fill="#000"/><text transform="scale(0.97,1)" x="1258.25" y="845" font-family="'Liberation Sans','DejaVu Sans',sans-serif" font-size="10" fill="#000" xml:space="preserve">12 May 01:15</text><rect x="1285" y="833" width="1" height="3" fill="#000"/><text transform="scale(0.97,1)" x="1324.23" y="845" font-family="'Liberation Sans','DejaVu Sans',sans-serif" font-size="10" fill="#000" xml:space="preserve">16 May 01:15</text></svg></body></html>
